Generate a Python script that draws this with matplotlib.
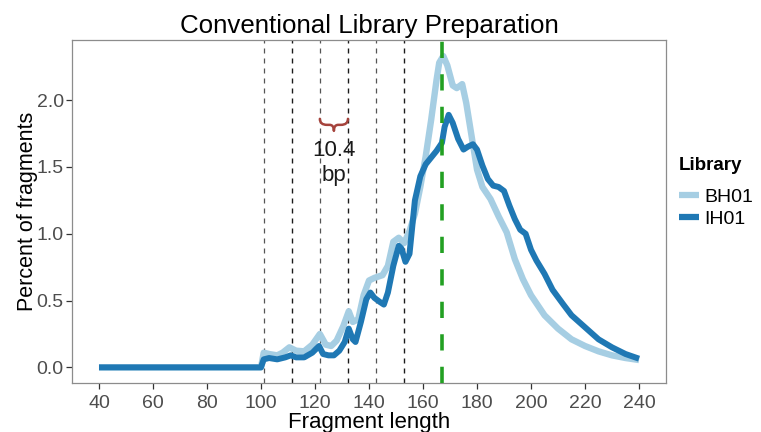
import numpy as np
import matplotlib.pyplot as plt
from matplotlib.path import Path
from matplotlib.patches import PathPatch
from matplotlib.lines import Line2D

plt.rcParams['font.family'] = ['Liberation Sans', 'DejaVu Sans']

# Fragment length distributions (percent of fragments)
bh01_len = [40, 100, 101, 103, 106, 108, 110.5, 113, 116, 119, 121.8, 124, 126, 128, 130.5,
            132.5, 134, 136, 138, 140, 142, 145, 147, 149, 151, 153, 155, 157, 159, 161, 163,
            165, 166, 167.5, 169, 171, 172.5, 174.5, 176, 178, 180, 182, 185, 188, 191, 194,
            197, 200, 205, 210, 215, 220, 225, 230, 235, 240]
bh01_pct = [0, 0, 0.11, 0.10, 0.09, 0.11, 0.15, 0.125, 0.12, 0.17, 0.25, 0.17, 0.16, 0.20, 0.31,
            0.42, 0.34, 0.36, 0.54, 0.65, 0.67, 0.69, 0.76, 0.94, 0.97, 0.93, 1.02, 1.15, 1.35,
            1.58, 1.85, 2.15, 2.28, 2.33, 2.26, 2.11, 2.09, 2.12, 1.98, 1.73, 1.48, 1.35, 1.26,
            1.13, 1.01, 0.81, 0.66, 0.54, 0.39, 0.29, 0.21, 0.16, 0.12, 0.09, 0.07, 0.055]

ih01_len = [40, 100, 101, 103, 106, 109, 111, 113, 116, 119, 121.5, 123, 125, 127, 129, 131,
            132.5, 134, 135, 137, 139, 140.5, 142, 144, 145.5, 147, 149, 151, 152, 153.5, 155,
            156, 157, 159, 161, 163, 165, 167, 168, 169.5, 171, 173, 175, 176.5, 178.5, 180,
            182, 184, 186, 188, 190, 192, 194, 196, 198, 200, 202, 205, 208, 212, 215, 220,
            225, 230, 235, 240]
ih01_pct = [0, 0, 0.06, 0.07, 0.06, 0.075, 0.09, 0.075, 0.075, 0.11, 0.16, 0.10, 0.09, 0.09,
            0.125, 0.19, 0.29, 0.21, 0.19, 0.34, 0.51, 0.56, 0.52, 0.49, 0.47, 0.56, 0.76, 0.91,
            0.89, 0.79, 0.85, 1.05, 1.25, 1.43, 1.52, 1.57, 1.62, 1.68, 1.80, 1.89, 1.83, 1.71,
            1.63, 1.65, 1.67, 1.63, 1.51, 1.41, 1.36, 1.35, 1.32, 1.21, 1.11, 1.03, 1.0, 0.88,
            0.80, 0.70, 0.58, 0.47, 0.39, 0.30, 0.21, 0.15, 0.10, 0.065]

libraries = ['BH01', 'IH01']
lib_colors = ['#a6cee3', '#1f78b4']

# periodicity markers and the mode
period = 10.4
period_start = 101
n_periods = 6
mode_len = 167

fig = plt.figure(figsize=(7.61, 4.32), dpi=100)
ax = fig.add_axes([0.0946, 0.1134, 0.7806, 0.794])

for k in range(n_periods):
    if k % 2 == 0:
        ax.axvline(period_start + k * period, color='#555555', lw=0.9, ls=(0, (4, 4)), zorder=1)
    else:
        ax.axvline(period_start + k * period, color='#1a1a1a', lw=1.0, ls=(0, (3.6, 3.6)), zorder=1)
ax.axvline(mode_len, color='#22a022', lw=2.6, ls=(0, (4.5, 4.5)), zorder=3)

ax.plot(bh01_len, bh01_pct, color=lib_colors[0], lw=4.6, solid_capstyle='butt', zorder=2)
ax.plot(ih01_len, ih01_pct, color=lib_colors[1], lw=4.3, solid_capstyle='butt', zorder=2)

# curly brace spanning one period, tip pointing down
x0 = period_start + 2 * period
x1 = x0 + period
xc = (x0 + x1) / 2
y_top, y_mid, y_tip = 1.86, 1.815, 1.77
verts = [(x0, y_top), (x0, y_mid), (x0 + 0.25 * period, y_mid),
         (xc - 0.15 * period, y_mid), (xc, y_mid), (xc, y_tip),
         (xc, y_mid), (xc + 0.15 * period, y_mid),
         (x1 - 0.25 * period, y_mid), (x1, y_mid), (x1, y_top)]
codes = [Path.MOVETO, Path.CURVE3, Path.CURVE3,
         Path.LINETO, Path.CURVE3, Path.CURVE3,
         Path.CURVE3, Path.CURVE3,
         Path.LINETO, Path.CURVE3, Path.CURVE3]
ax.add_patch(PathPatch(Path(verts, codes), fill=False, edgecolor='#a5433c', lw=1.8,
                       capstyle='round', joinstyle='round', zorder=4))
ax.text(xc, 1.53, f'{period}\nbp', ha='center', va='center',
        fontsize=16, color='#1a1a1a', linespacing=1.2)

ax.set_xlim(30, 250)
ax.set_ylim(-0.117, 2.45)
ax.set_xticks(np.arange(40, 241, 20))
ax.set_yticks([0.0, 0.5, 1.0, 1.5, 2.0])
ax.set_yticklabels(['0.0', '0.5', '1.0', '1.5', '2.0'])
ax.tick_params(length=4, width=0.9, color='#333333', labelsize=14, labelcolor='#4d4d4d')
ax.tick_params(axis='x', pad=4.5)
ax.tick_params(axis='y', pad=2)
for s in ax.spines.values():
    s.set_color('#8c8c8c')
    s.set_linewidth(0.9)

ax.set_title('Conventional Library Preparation', fontsize=18.6, pad=5)
ax.set_xlabel('Fragment length', fontsize=16, labelpad=0)
ax.set_ylabel('Percent of fragments', fontsize=15.5, labelpad=-1)

# legend: bold title plus line keys
fig.text(679 / 761, 1 - 165 / 432, 'Library', fontsize=13.5, fontweight='bold',
         ha='left', va='center')
handles = [Line2D([], [], color=c, lw=4.5, solid_capstyle='butt') for c in lib_colors]
ax.legend(handles, libraries, loc='upper left', bbox_to_anchor=(679 / 761, 1 - 188 / 432),
          bbox_transform=fig.transFigure, frameon=False, fontsize=14, handlelength=1.05,
          handletextpad=0.25, labelspacing=0.25, borderpad=0, borderaxespad=0)

fig.savefig('out.png', dpi=100)
